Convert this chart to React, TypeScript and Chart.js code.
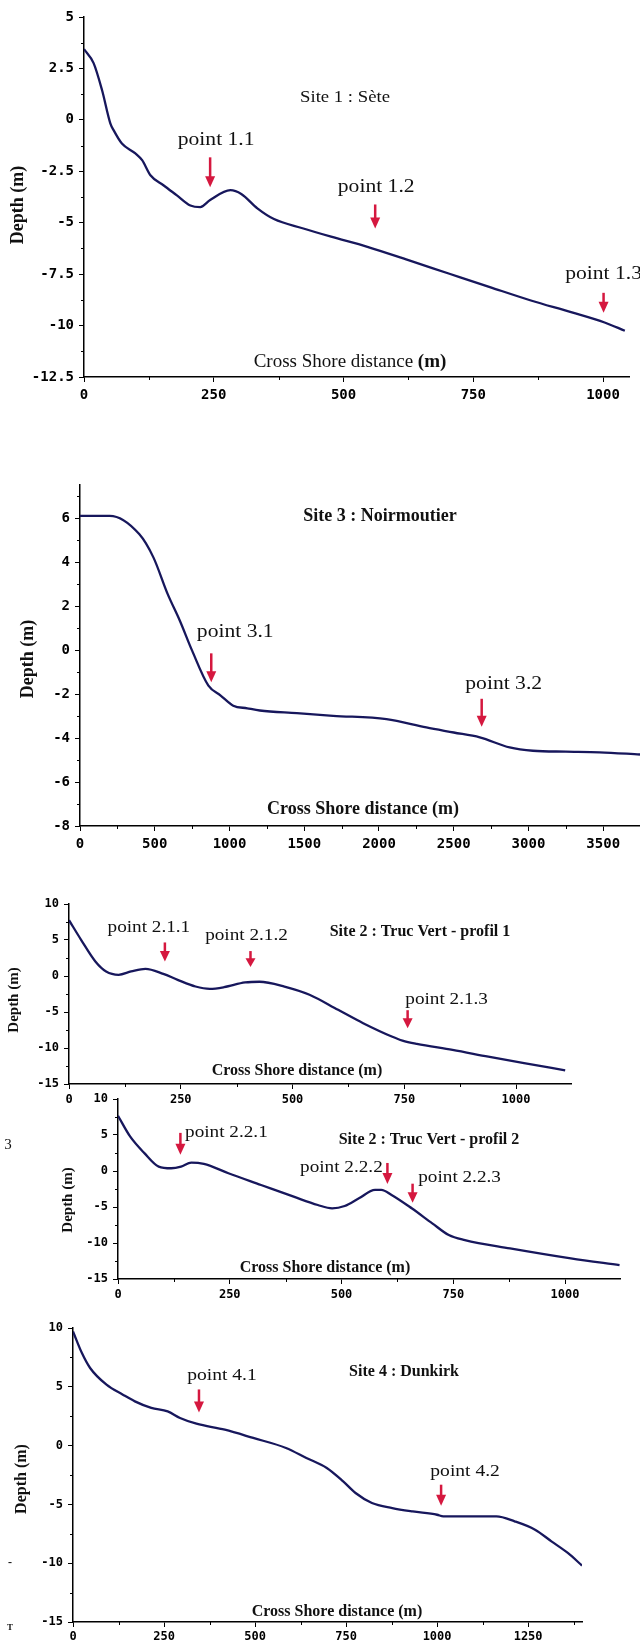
import React, { useEffect, useRef } from "react";
import { Chart, registerables } from "chart.js";

Chart.register(...registerables);

// ---------------- Site 1 : Sète ----------------
const seteX = [0, 18.5, 34.7, 50.7, 57, 73, 99, 112, 128, 153, 179, 205, 224, 243, 282, 303, 334, 366, 421, 476, 546, 625, 704, 782, 861, 940, 1003, 1042];
const seteY = [3.44, 2.76, 1.45, -0.17, -0.5, -1.15, -1.63, -1.96, -2.69, -3.18, -3.67, -4.16, -4.24, -3.9, -3.42, -3.6, -4.3, -4.82, -5.27, -5.68, -6.17, -6.82, -7.48, -8.13, -8.78, -9.36, -9.85, -10.25];
const seteXTicks = [0, 250, 500, 750, 1000];
const seteYTicks = [5, 2.5, 0, -2.5, -5, -7.5, -10, -12.5];
const seteArrowX = [243, 561, 1001];
const seteArrowY = [-3.28, -5.28, -9.38];
const seteArrowLabels = ["point 1.1", "point 1.2", "point 1.3"];

// ---------------- Site 3 : Noirmoutier ----------------
const noirX = [0, 199, 396, 491, 586, 668, 750, 859, 941, 1025, 1119, 1203, 1450, 1693, 2050, 2317, 2500, 2674, 2874, 3030, 3250, 3476, 3746];
const noirY = [6.1, 6.1, 5.27, 4.21, 2.55, 1.33, -0.03, -1.62, -2.07, -2.53, -2.65, -2.75, -2.87, -2.99, -3.14, -3.52, -3.75, -3.97, -4.43, -4.58, -4.62, -4.65, -4.75];
const noirXTicks = [0, 500, 1000, 1500, 2000, 2500, 3000, 3500];
const noirYTicks = [6, 4, 2, 0, -2, -4, -6, -8];
const noirArrowX = [878, 2687];
const noirArrowY = [-1.47, -3.49];
const noirArrowLabels = ["point 3.1", "point 3.2"];

// ---------------- Site 2 : Truc Vert - profil 1 ----------------
const tv1X = [0, 27, 59, 83, 111, 139, 171, 211, 243, 283, 315, 347, 394, 426, 482, 538, 602, 658, 722, 746, 778, 858, 938, 1018, 1110];
const tv1Y = [7.75, 5.03, 2.02, 0.63, 0.17, 0.63, 1.0, 0.3, -0.53, -1.46, -1.78, -1.55, -0.9, -0.8, -1.46, -2.6, -4.7, -6.55, -8.4, -8.97, -9.43, -10.26, -11.2, -12.1, -13.1];
const tv1XTicks = [0, 250, 500, 750, 1000];
const tv1YTicks = [10, 5, 0, -5, -10, -15];
const tv1ArrowX = [214.5, 406, 757.5];
const tv1ArrowY = [2.02, 1.24, -7.25];
const tv1ArrowLabels = ["point 2.1.1", "point 2.1.2", "point 2.1.3"];

// ---------------- Site 2 : Truc Vert - profil 2 ----------------
const tv2X = [0, 27, 59, 91, 119, 141, 164, 192, 247, 320, 393, 447, 479, 507, 539, 575, 589, 612, 657, 703, 740, 776, 877, 1013, 1122];
const tv2Y = [7.67, 4.8, 2.48, 0.61, 0.38, 0.61, 1.17, 0.99, -0.31, -1.94, -3.57, -4.72, -5.18, -4.86, -3.79, -2.63, -2.63, -3.33, -5.18, -7.27, -8.9, -9.6, -10.75, -12.14, -13.08];
const tv2XTicks = [0, 250, 500, 750, 1000];
const tv2YTicks = [10, 5, 0, -5, -10, -15];
const tv2ArrowX = [139.6, 602.7, 659];
const tv2ArrowY = [2.24, -1.8, -4.4];
const tv2ArrowLabels = ["point 2.2.1", "point 2.2.2", "point 2.2.3"];

// ---------------- Site 4 : Dunkirk ----------------
const dunX = [0, 24.5, 47, 92, 137, 170, 215, 260, 294, 339, 417, 495, 585, 641, 697, 742, 776, 821, 877, 933, 1000, 1017, 1163, 1213, 1269, 1314, 1359, 1398];
const dunY = [9.71, 7.87, 6.6, 5.18, 4.33, 3.76, 3.2, 2.91, 2.35, 1.86, 1.35, 0.65, -0.2, -1.05, -1.9, -3.04, -4.03, -4.88, -5.31, -5.6, -5.88, -6.02, -6.02, -6.44, -7.15, -8.14, -9.13, -10.2];
const dunXTicks = [0, 250, 500, 750, 1000, 1250];
const dunYTicks = [10, 5, 0, -5, -10, -15];
const dunArrowX = [346, 1011];
const dunArrowY = [2.82, -5.11];
const dunArrowLabels = ["point 4.1", "point 4.2"];

const LINE_COLOR = "#17175c";
const ARROW_COLOR = "#d5183f";
const TEXT_COLOR = "#111";
const SERIF = "'Liberation Serif', 'Times New Roman', serif";
const MONO = "'DejaVu Sans Mono', monospace";

type Part = { text: string; bold: boolean };
type TextItem = { parts: Part[]; x: number; y: number; size: number; stretch?: number; rotate?: boolean };

type PanelCfg = {
  xs: number[]; ys: number[];
  xTicks: number[]; yTicks: number[];
  arrowX: number[]; arrowY: number[]; arrowLabels: string[];
  canvasTop: number; canvasHeight: number;
  plot: { left: number; right: number; top: number; bottom: number };
  xMin: number; xMax: number; xMinor: number;
  yMin: number; yMax: number; yMinor: number;
  tickSize: number; xPad: number; yPad: number;
  arrowLen: number[]; labelOff: number[][];
  labelSize: number; labelStretch: number;
  texts: TextItem[];
};

const b = (t: string): Part[] => [{ text: t, bold: true }];
const r = (t: string): Part[] => [{ text: t, bold: false }];

const panels: PanelCfg[] = [
  {
    xs: seteX, ys: seteY, xTicks: seteXTicks, yTicks: seteYTicks,
    arrowX: seteArrowX, arrowY: seteArrowY, arrowLabels: seteArrowLabels,
    canvasTop: 0, canvasHeight: 412,
    plot: { left: 84, right: 629, top: 17, bottom: 377 },
    xMin: 0, xMax: 1050, xMinor: 125, yMin: -12.5, yMax: 5, yMinor: 1.25,
    tickSize: 14, xPad: 5, yPad: 5,
    arrowLen: [30, 24, 20], labelOff: [[6, -17], [1, -17], [0, -19]],
    labelSize: 18, labelStretch: 1.2,
    texts: [
      { parts: r("Site 1 : Sète"), x: 345, y: 98, size: 17, stretch: 1.1 },
      { parts: [{ text: "Cross Shore distance ", bold: false }, { text: "(m)", bold: true }], x: 350, y: 362, size: 19 },
      { parts: b("Depth (m)"), x: 18, y: 205, size: 18, rotate: true },
    ],
  },
  {
    xs: noirX, ys: noirY, xTicks: noirXTicks, yTicks: noirYTicks,
    arrowX: noirArrowX, arrowY: noirArrowY, arrowLabels: noirArrowLabels,
    canvasTop: 468, canvasHeight: 392,
    plot: { left: 80, right: 640, top: 485, bottom: 826 },
    xMin: 0, xMax: 3746, xMinor: 250, yMin: -8, yMax: 7.5, yMinor: 1,
    tickSize: 14, xPad: 5, yPad: 5,
    arrowLen: [29, 28], labelOff: [[24, -21], [22, -15]],
    labelSize: 18, labelStretch: 1.2,
    texts: [
      { parts: b("Site 3 : Noirmoutier"), x: 380, y: 516, size: 18 },
      { parts: b("Cross Shore distance (m)"), x: 363, y: 809, size: 18 },
      { parts: b("Depth (m)"), x: 28, y: 659, size: 18, rotate: true },
    ],
  },
  {
    xs: tv1X, ys: tv1Y, xTicks: tv1XTicks, yTicks: tv1YTicks,
    arrowX: tv1ArrowX, arrowY: tv1ArrowY, arrowLabels: tv1ArrowLabels,
    canvasTop: 888, canvasHeight: 228,
    plot: { left: 69, right: 571, top: 904, bottom: 1084 },
    xMin: 0, xMax: 1123, xMinor: 125, yMin: -15, yMax: 10, yMinor: 2.5,
    tickSize: 12, xPad: 4, yPad: 5,
    arrowLen: [19, 16, 18], labelOff: [[-16, -15], [-4, -15], [39, -10]],
    labelSize: 16, labelStretch: 1.2,
    texts: [
      { parts: b("Site 2 : Truc Vert - profil 1"), x: 420, y: 932, size: 16 },
      { parts: b("Cross Shore distance (m)"), x: 297, y: 1071, size: 16 },
      { parts: b("Depth (m)"), x: 14, y: 1000, size: 15, rotate: true },
    ],
  },
  {
    xs: tv2X, ys: tv2Y, xTicks: tv2XTicks, yTicks: tv2YTicks,
    arrowX: tv2ArrowX, arrowY: tv2ArrowY, arrowLabels: tv2ArrowLabels,
    canvasTop: 1084, canvasHeight: 224,
    plot: { left: 118, right: 620, top: 1099, bottom: 1279 },
    xMin: 0, xMax: 1123, xMinor: 125, yMin: -15, yMax: 10, yMinor: 2.5,
    tickSize: 12, xPad: 4, yPad: 5,
    arrowLen: [22, 21, 19], labelOff: [[46, 0], [-46, 5], [47, -6]],
    labelSize: 16, labelStretch: 1.2,
    texts: [
      { parts: b("Site 2 : Truc Vert - profil 2"), x: 429, y: 1140, size: 16 },
      { parts: b("Cross Shore distance (m)"), x: 325, y: 1268, size: 16 },
      { parts: b("Depth (m)"), x: 68, y: 1200, size: 15, rotate: true },
      { parts: r("3"), x: 8, y: 1145, size: 15 },
    ],
  },
  {
    xs: dunX, ys: dunY, xTicks: dunXTicks, yTicks: dunYTicks,
    arrowX: dunArrowX, arrowY: dunArrowY, arrowLabels: dunArrowLabels,
    canvasTop: 1310, canvasHeight: 333,
    plot: { left: 73, right: 582, top: 1328, bottom: 1622 },
    xMin: 0, xMax: 1398, xMinor: 125, yMin: -15, yMax: 10, yMinor: 2.5,
    tickSize: 12, xPad: 3, yPad: 5,
    arrowLen: [23, 21], labelOff: [[23, -14], [24, -13]],
    labelSize: 17, labelStretch: 1.15,
    texts: [
      { parts: b("Site 4 : Dunkirk"), x: 404, y: 1372, size: 16 },
      { parts: b("Cross Shore distance (m)"), x: 337, y: 1612, size: 16 },
      { parts: b("Depth (m)"), x: 22, y: 1479, size: 16, rotate: true },
      { parts: b("-"), x: 10, y: 1563, size: 12 },
      { parts: b("T"), x: 10, y: 1628, size: 9 },
    ],
  },
];

function drawParts(ctx: CanvasRenderingContext2D, item: TextItem, offY: number) {
  const stretch = item.stretch ?? 1;
  ctx.save();
  ctx.translate(item.x, item.y - offY);
  if (item.rotate) ctx.rotate(-Math.PI / 2);
  ctx.scale(stretch, 1);
  ctx.textBaseline = "middle";
  ctx.textAlign = "left";
  ctx.fillStyle = TEXT_COLOR;
  const fontOf = (p: Part) => `${p.bold ? "bold " : ""}${item.size}px ${SERIF}`;
  let total = 0;
  for (const p of item.parts) {
    ctx.font = fontOf(p);
    total += ctx.measureText(p.text).width;
  }
  let x = -total / 2;
  for (const p of item.parts) {
    ctx.font = fontOf(p);
    ctx.fillText(p.text, x, 0);
    x += ctx.measureText(p.text).width;
  }
  ctx.restore();
}

function makeOverlay(cfg: PanelCfg) {
  return {
    id: "overlay",
    afterDraw(chart: any) {
      const ctx: CanvasRenderingContext2D = chart.ctx;
      const xs = chart.scales.x;
      const ys = chart.scales.y;
      const area = chart.chartArea;
      ctx.save();
      // minor ticks
      ctx.strokeStyle = "#000";
      ctx.lineWidth = 1;
      const isMajor = (v: number, arr: number[]) => arr.some((t) => Math.abs(t - v) < 1e-6);
      for (let v = cfg.xMin; v <= cfg.xMax + 1e-6; v += cfg.xMinor) {
        if (isMajor(v, cfg.xTicks)) continue;
        const px = Math.round(xs.getPixelForValue(v)) + 0.5;
        ctx.beginPath();
        ctx.moveTo(px, area.bottom);
        ctx.lineTo(px, area.bottom + 3);
        ctx.stroke();
      }
      for (let v = cfg.yMin; v <= cfg.yMax + 1e-6; v += cfg.yMinor) {
        if (isMajor(v, cfg.yTicks)) continue;
        const py = Math.round(ys.getPixelForValue(v)) + 0.5;
        ctx.beginPath();
        ctx.moveTo(area.left - 3, py);
        ctx.lineTo(area.left, py);
        ctx.stroke();
      }
      // arrows and labels
      cfg.arrowX.forEach((ax, i) => {
        const px = xs.getPixelForValue(ax);
        const tip = ys.getPixelForValue(cfg.arrowY[i]);
        const len = cfg.arrowLen[i];
        const top = tip - len;
        const headH = Math.min(11, len * 0.55);
        ctx.strokeStyle = ARROW_COLOR;
        ctx.fillStyle = ARROW_COLOR;
        ctx.lineWidth = 2.5;
        ctx.beginPath();
        ctx.moveTo(px, top);
        ctx.lineTo(px, tip - headH + 1);
        ctx.stroke();
        ctx.beginPath();
        ctx.moveTo(px - 5, tip - headH);
        ctx.lineTo(px + 5, tip - headH);
        ctx.lineTo(px, tip);
        ctx.closePath();
        ctx.fill();
        const off = cfg.labelOff[i];
        drawParts(
          ctx,
          { parts: r(cfg.arrowLabels[i]), x: px + off[0], y: top + off[1], size: cfg.labelSize, stretch: cfg.labelStretch },
          0
        );
      });
      // titles
      cfg.texts.forEach((t) => drawParts(ctx, t, cfg.canvasTop));
      ctx.restore();
    },
  };
}

function Panel({ cfg }: { cfg: PanelCfg }) {
  const ref = useRef<HTMLCanvasElement>(null);
  useEffect(() => {
    const canvas = ref.current!;
    const tickFont = { family: MONO, size: cfg.tickSize, weight: "bold" as const };
    const plotBottomLocal = cfg.plot.bottom - cfg.canvasTop;
    const chart = new Chart(canvas, {
      type: "line",
      data: {
        datasets: [
          {
            data: cfg.xs.map((x, i) => ({ x, y: cfg.ys[i] })),
            borderColor: LINE_COLOR,
            borderWidth: 2.3,
            pointRadius: 0,
            cubicInterpolationMode: "monotone",
            fill: false,
          },
        ],
      },
      options: {
        responsive: false,
        animation: false,
        devicePixelRatio: 1,
        events: [],
        layout: {
          padding: {
            left: 0,
            top: cfg.plot.top - cfg.canvasTop,
            right: 640 - cfg.plot.right,
            bottom: 0,
          },
        },
        plugins: { legend: { display: false }, tooltip: { enabled: false }, title: { display: false } },
        scales: {
          x: {
            type: "linear",
            min: cfg.xMin,
            max: cfg.xMax,
            afterBuildTicks: (s: any) => {
              s.ticks = cfg.xTicks.map((v) => ({ value: v }));
            },
            afterFit: (s: any) => {
              s.height = cfg.canvasHeight - plotBottomLocal;
            },
            ticks: {
              color: "#000",
              font: tickFont,
              padding: cfg.xPad,
              maxRotation: 0,
              minRotation: 0,
              autoSkip: false,
              callback: (v: any) => String(v),
            },
            grid: { drawOnChartArea: false, drawTicks: true, tickLength: 5, color: "#000", lineWidth: 1 },
            border: { display: true, color: "#000", width: 1.5 },
          },
          y: {
            type: "linear",
            min: cfg.yMin,
            max: cfg.yMax,
            afterBuildTicks: (s: any) => {
              s.ticks = cfg.yTicks.map((v) => ({ value: v }));
            },
            afterFit: (s: any) => {
              s.width = cfg.plot.left;
            },
            ticks: {
              color: "#000",
              font: tickFont,
              padding: cfg.yPad,
              autoSkip: false,
              callback: (v: any) => String(v),
            },
            grid: { drawOnChartArea: false, drawTicks: true, tickLength: 5, color: "#000", lineWidth: 1 },
            border: { display: true, color: "#000", width: 1.5 },
          },
        },
      },
      plugins: [makeOverlay(cfg)],
    } as any);
    return () => chart.destroy();
  }, [cfg]);
  return (
    <canvas
      ref={ref}
      width={640}
      height={cfg.canvasHeight}
      style={{ position: "absolute", left: 0, top: cfg.canvasTop, width: 640, height: cfg.canvasHeight }}
    />
  );
}

export default function App() {
  return (
    <div
      style={{
        position: "absolute",
        left: 0,
        top: 0,
        width: 640,
        height: 1643,
        overflow: "hidden",
        background: "#fff",
      }}
    >
      {panels.map((p, i) => (
        <Panel key={i} cfg={p} />
      ))}
    </div>
  );
}
